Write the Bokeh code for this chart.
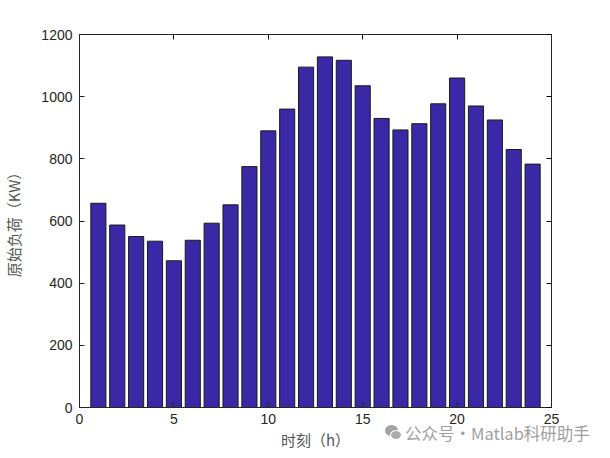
from bokeh.plotting import figure
from bokeh.models import LinearAxis, Range1d, FixedTicker, Div
from bokeh.layouts import column
from bokeh.embed import file_html
from bokeh.resources import INLINE

hours = list(range(1, 25))
load = [657, 587, 550, 535, 472, 538, 593, 652, 775, 890, 960, 1095,
        1128, 1117, 1035, 930, 893, 913, 977, 1060, 970, 925, 830, 783]
x_ticks = [0, 5, 10, 15, 20, 25]
y_ticks = [0, 200, 400, 600, 800, 1000, 1200]
x_label = "时刻（h）"
y_label = "原始负荷（KW）"
watermark = "公众号·Matlab科研助手"

fig = figure(frame_width=472, frame_height=373, output_backend="svg", toolbar_location=None,
             x_range=Range1d(0, 25), y_range=Range1d(0, 1200),
             min_border_left=72, min_border_right=40, min_border_top=34, min_border_bottom=45)
fig.background_fill_color = "white"
fig.border_fill_color = "white"
fig.outline_line_color = "#262626"
fig.grid.visible = False

fig.vbar(x=hours, top=load, width=0.8, bottom=0, fill_color="#3B28A6",
         line_color="#1a1a1a", line_width=1)

font = "Liberation Sans"
for ax in (fig.xaxis[0], fig.yaxis[0]):
    ax.major_tick_in = 5
    ax.major_tick_out = 0
    ax.minor_tick_line_color = None
    ax.axis_line_color = "#262626"
    ax.major_tick_line_color = "#262626"
    ax.major_label_text_font = font
    ax.major_label_text_font_size = "14px"
    ax.major_label_text_color = "#262626"
    ax.axis_label_text_font = "Noto Sans CJK SC"
    ax.axis_label_text_font_size = "15px"
    ax.axis_label_text_font_style = "normal"
    ax.axis_label_text_color = "#555555"

fig.xaxis[0].ticker = FixedTicker(ticks=x_ticks)
fig.yaxis[0].ticker = FixedTicker(ticks=y_ticks)
fig.xaxis[0].axis_label = x_label
fig.yaxis[0].axis_label = y_label
fig.xaxis[0].major_label_standoff = 6
fig.xaxis[0].axis_label_standoff = 2
fig.yaxis[0].major_label_standoff = 7
fig.yaxis[0].axis_label_standoff = 14

top = LinearAxis(ticker=FixedTicker(ticks=x_ticks), major_label_text_alpha=0,
                 major_tick_in=5, major_tick_out=0, minor_tick_line_color=None,
                 major_label_text_font_size="1px", axis_line_color="#262626")
right = LinearAxis(ticker=FixedTicker(ticks=y_ticks), major_label_text_alpha=0,
                   major_tick_in=5, major_tick_out=0, minor_tick_line_color=None,
                   major_label_text_font_size="1px", axis_line_color="#262626")
fig.add_layout(top, "above")
fig.add_layout(right, "right")

icon = ('<span style="position:relative;display:inline-block;width:20px;height:18px;vertical-align:middle;">'
        '<span style="position:absolute;left:0;top:1px;width:13px;height:11px;border-radius:50%;background:#a3a3a3;"></span>'
        '<span style="position:absolute;left:5px;top:6px;width:12px;height:10px;border-radius:50%;background:#ababab;border:1px solid #fff;"></span>'
        '</span>')
wm = Div(text=icon + '<span style="vertical-align:middle;">' + watermark + '</span>',
         width=215, height=20, margin=(-31, 0, 0, 385),
         styles={"font-family": "Noto Sans CJK SC", "font-size": "16.5px",
                 "color": "#a0a0a0", "line-height": "18px", "white-space": "nowrap"})

p = column(fig, wm, spacing=0)
open("out.html", "w").write(file_html(p, INLINE))
